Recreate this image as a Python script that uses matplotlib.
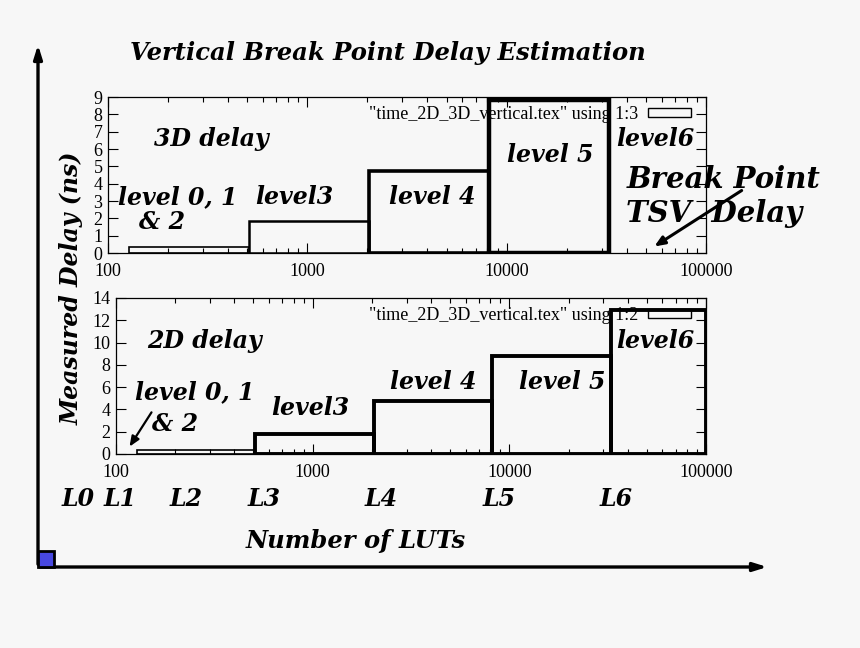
import matplotlib
matplotlib.use("Agg")
import matplotlib.pyplot as plt
from matplotlib.patches import Patch, Rectangle

# ---------------- data ----------------
level_left = [128, 512, 2048, 8192, 32768]
level_right = [512, 2048, 8192, 32768, 100000]
delay_3d = [0.35, 1.84, 4.75, 8.85]
delay_2d = [0.32, 1.82, 4.72, 8.82, 12.9]
x_ticks = [100, 1000, 10000, 100000]
x_tick_labels = ["100", "1000", "10000", "100000"]
y_ticks_3d = list(range(0, 10))
y_ticks_2d = list(range(0, 15, 2))
legend_3d = '"time_2D_3D_vertical.tex" using 1:3'
legend_2d = '"time_2D_3D_vertical.tex" using 1:2'
level_names = ["L0", "L1", "L2", "L3", "L4", "L5", "L6"]

W, H = 860, 648
BG = "#f7f7f7"
fig = plt.figure(figsize=(W / 100, H / 100), dpi=100, facecolor=BG)


def rect(l, t, r, b):
    return [l / W, 1 - b / H, (r - l) / W, (b - t) / H]


def fx(x):
    return x / W


def fy(y):
    return 1 - y / H


SERIF = ["Liberation Serif", "DejaVu Serif"]
BI = dict(family="DejaVu Serif", weight="bold", style="italic")


def setup(ax, yticks, ymax):
    ax.set_facecolor("none")
    ax.set_xscale("log")
    ax.set_xlim(100, 100000)
    ax.set_ylim(0, ymax)
    ax.set_xticks(x_ticks)
    ax.set_xticklabels(x_tick_labels)
    ax.set_yticks(yticks)
    ax.tick_params(which="major", direction="in", length=7, width=0.8,
                   top=True, right=True, labelsize=13)
    ax.tick_params(which="minor", direction="in", length=3.5, width=0.8,
                   top=True, right=True)
    ax.tick_params(axis="x", pad=7)
    ax.tick_params(axis="y", pad=4)
    for lab in ax.get_xticklabels() + ax.get_yticklabels():
        lab.set_family(SERIF)
    for s in ax.spines.values():
        s.set_linewidth(0.9)


def legend(ax, label):
    h = Patch(facecolor="none", edgecolor="black", linewidth=1.0, label=label)
    ax.legend(handles=[h], loc="upper right", bbox_to_anchor=(1.0, 1.04),
              frameon=False, markerfirst=False, handlelength=2.35,
              handleheight=0.35, prop={"family": SERIF, "size": 13},
              borderaxespad=0.55, handletextpad=0.55, borderpad=0.3)


# top panel (3D)
ax1 = fig.add_axes(rect(108, 97, 706, 253))
setup(ax1, y_ticks_3d, 9)
n3 = len(delay_3d)
ax1.bar(level_left[:n3], delay_3d,
        width=[r - l for l, r in zip(level_left[:n3], level_right[:n3])],
        align="edge", fill=False, edgecolor="black",
        linewidth=[1.2, 1.8, 2.6, 3.2], zorder=3)
legend(ax1, legend_3d)

# bottom panel (2D)
ax2 = fig.add_axes(rect(116, 298, 706, 454))
setup(ax2, y_ticks_2d, 14)
ax2.bar(level_left, delay_2d,
        width=[r - l for l, r in zip(level_left, level_right)],
        align="edge", fill=False, edgecolor="black",
        linewidth=[1.2, 2.8, 2.8, 2.8, 2.8], zorder=3)
legend(ax2, legend_2d)


# text annotations
def t(x, y, s, size=17, ha="center", va="center", rot=0):
    fig.text(fx(x), fy(y), s, ha=ha, va=va, fontsize=size, rotation=rot, **BI)


t(388, 53, "Vertical Break Point Delay Estimation", 17.5)
t(72, 288, "Measured Delay (ns)", 17, rot=90)
t(356, 541, "Number of LUTs", 17.5)

# top panel labels
t(211, 139, "3D delay")
t(178, 197, "level 0, 1")
t(162, 222, "& 2")
t(294, 197, "level3")
t(432, 197, "level 4")
t(550, 155, "level 5")
t(655, 139, "level6")
t(724, 179, "Break Point", 21)
t(714, 213, "TSV  Delay", 21)

# bottom panel labels
t(204, 341, "2D delay")
t(195, 392, "level 0, 1")
t(175, 424, "& 2")
t(310, 408, "level3")
t(433, 382, "level 4")
t(562, 382, "level 5")
t(655, 341, "level6")

# level markers
for name, x in zip(level_names, [78, 120, 186, 264, 381, 499, 616]):
    t(x, 499, name)

# arrows
fig.add_artist(matplotlib.patches.FancyArrowPatch(
    (fx(744), fy(189)), (fx(652), fy(248)), transform=fig.transFigure,
    arrowstyle="-|>,head_length=6,head_width=2.5", color="black", lw=2.2))
fig.add_artist(matplotlib.patches.FancyArrowPatch(
    (fx(153), fy(410)), (fx(128), fy(449)), transform=fig.transFigure,
    arrowstyle="-|>,head_length=6,head_width=2.5", color="black", lw=1.6))

# outer axes with arrows
fig.add_artist(matplotlib.patches.FancyArrowPatch(
    (fx(38), fy(567)), (fx(38), fy(42)), transform=fig.transFigure,
    arrowstyle="-|>,head_length=8,head_width=2.5", color="black", lw=2.4))
fig.add_artist(matplotlib.patches.FancyArrowPatch(
    (fx(37), fy(567)), (fx(770), fy(567)), transform=fig.transFigure,
    arrowstyle="-|>,head_length=8,head_width=2.5", color="black", lw=2.4))
fig.add_artist(Rectangle((fx(37.5), fy(566.5)), fx(16), 16 / H,
                         transform=fig.transFigure, facecolor="#4848e0",
                         edgecolor="black", lw=2.0, zorder=5))

fig.savefig("out.png", dpi=100, facecolor=BG)
